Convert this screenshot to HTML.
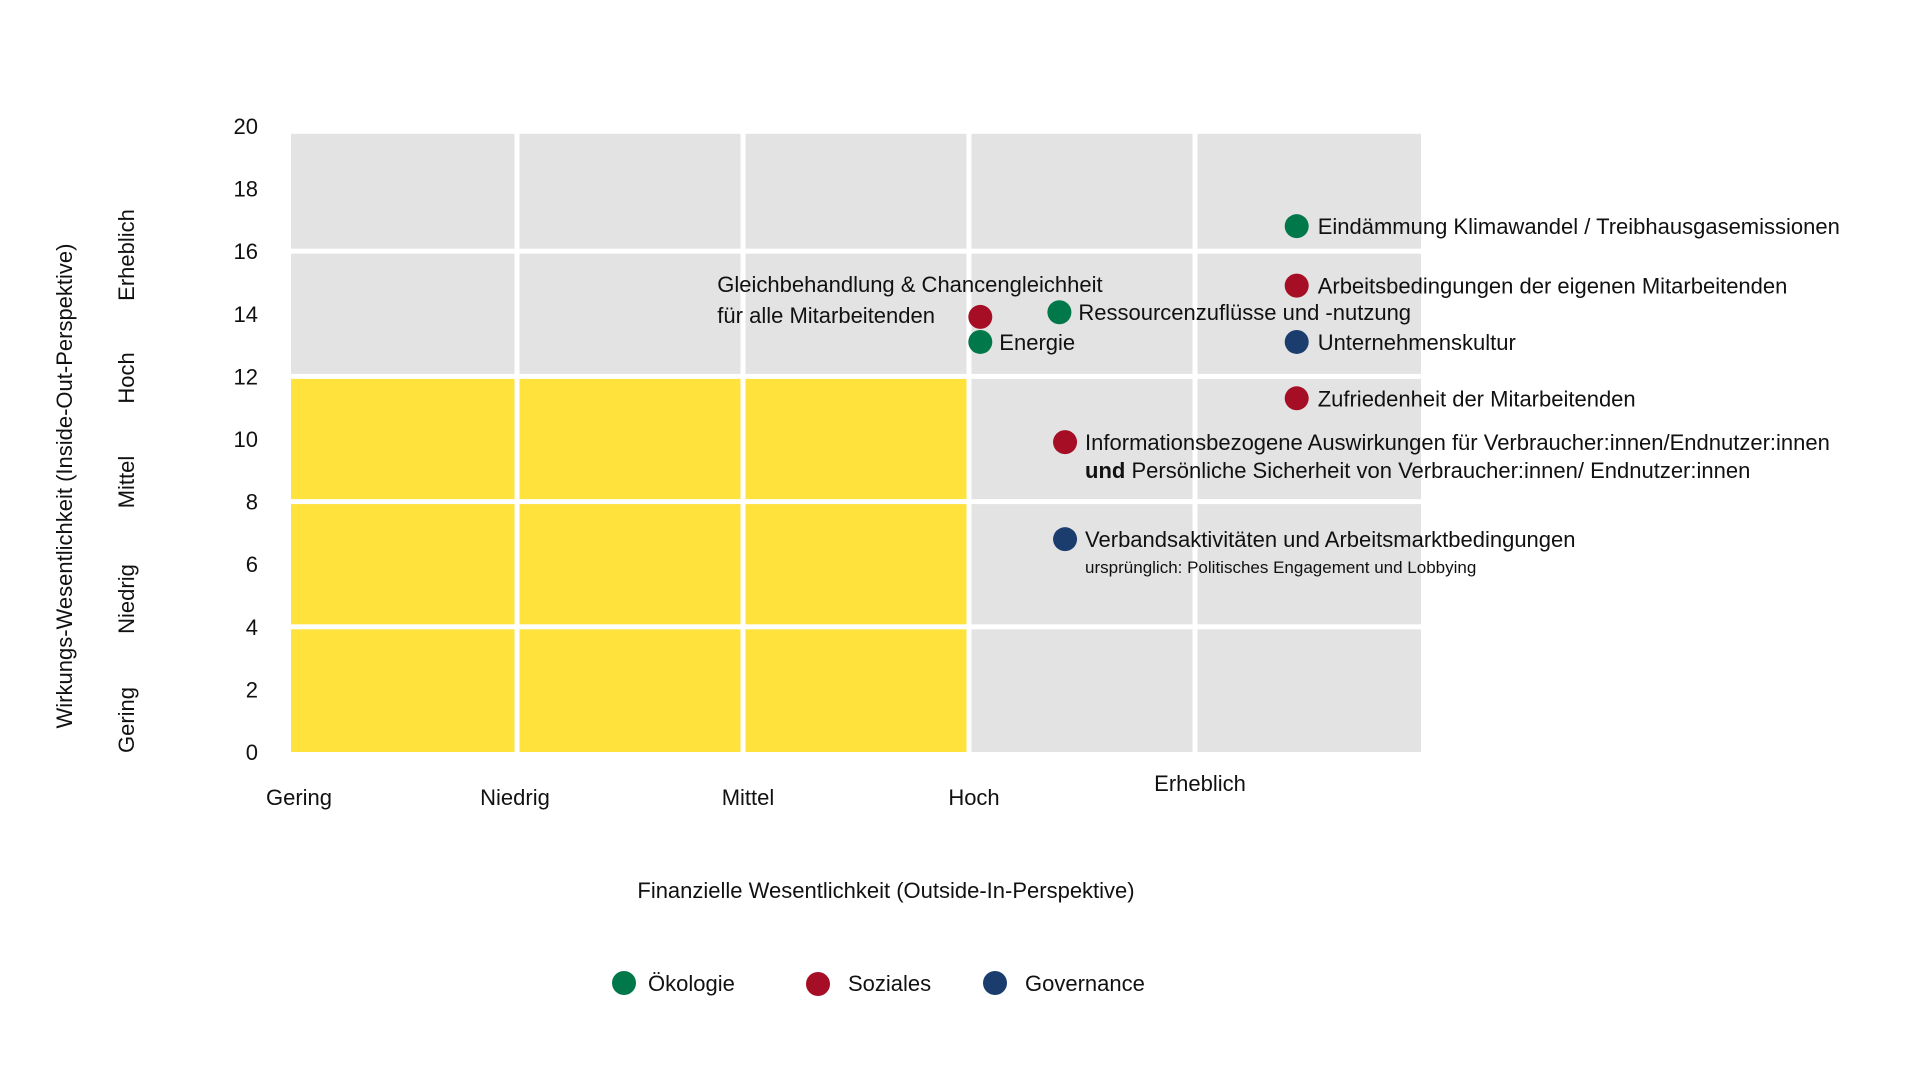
<!DOCTYPE html>
<html><head><meta charset="utf-8"><style>
html,body{margin:0;padding:0;background:#fff;}
svg{display:block;font-family:"Liberation Sans",sans-serif;}
</style></head><body>
<svg id="chart" width="1920" height="1080" viewBox="0 0 1920 1080" xmlns="http://www.w3.org/2000/svg">
<g id="grid"></g>
<g id="yticks"></g>
<g id="ycats"></g>
<g id="xcats"></g>
<g id="points"></g>
<text transform="translate(72,486) rotate(-90)" text-anchor="middle" font-size="22" fill="#111">Wirkungs-Wesentlichkeit (Inside-Out-Perspektive)</text>
<text x="886" y="898" text-anchor="middle" font-size="22" fill="#111">Finanzielle Wesentlichkeit (Outside-In-Perspektive)</text>
<g transform="translate(-4,-4)">
 <g><circle cx="628" cy="987" r="12" fill="#00784a"/><text x="652" y="995" font-size="22" fill="#111">Ökologie</text></g>
 <g><circle cx="822" cy="988" r="12" fill="#a50e25"/><text x="852" y="995" font-size="22" fill="#111">Soziales</text></g>
 <g><circle cx="999" cy="987" r="12" fill="#1b3d6e"/><text x="1029" y="995" font-size="22" fill="#111">Governance</text></g>
</g>
</svg>
<script>
const yTickLabels = ["0","2","4","6","8","10","12","14","16","18","20"];
const yTickValues = [0,2,4,6,8,10,12,14,16,18,20];
const levelLabels = ["Gering","Niedrig","Mittel","Hoch","Erheblich"];
const pointNames = ["Eindämmung Klimawandel / Treibhausgasemissionen","Arbeitsbedingungen der eigenen Mitarbeitenden","Unternehmenskultur","Zufriedenheit der Mitarbeitenden","Informationsbezogene Auswirkungen","Verbandsaktivitäten und Arbeitsmarktbedingungen","Gleichbehandlung & Chancengleichheit","Energie","Ressourcenzuflüsse und -nutzung"];
const pointX = [17.8,17.8,17.8,17.8,13.7,13.7,12.2,12.2,13.6];
const pointY = [16.8,14.9,13.1,11.3,9.9,6.8,13.9,13.1,14.05];
const pointCat = ["oek","soz","gov","soz","soz","gov","soz","oek","oek"];

const NS="http://www.w3.org/2000/svg";
const X0=291,X1=1421,Y0=752,Y20=126;
const xs=v=>X0+v*(X1-X0)/20;
const ys=v=>Y0-v*(Y0-Y20)/20;
const colors={oek:"#00784a",soz:"#a50e25",gov:"#1b3d6e"};
function mk(tag,attrs,parent){const e=document.createElementNS(NS,tag);for(const k in attrs)e.setAttribute(k,attrs[k]);parent.appendChild(e);return e;}

const grid=document.getElementById('grid');
const colB=[0,4,8,12,16,20];
const rowB=[0,4,8,12,16,19.75];
for(let c=0;c<5;c++){for(let r=0;r<5;r++){
  const x=xs(colB[c])+(c>0?2.5:0), x2=xs(colB[c+1])-(c<4?2.5:0);
  const yb=ys(rowB[r])-(r>0?2.5:0), yt=ys(rowB[r+1])+(r<4?2.5:0);
  const yellow=(c<3&&r<3);
  const el=mk('rect',{x:x,y:yt,width:x2-x,height:yb-yt,fill:yellow?"#ffe23b":"#e3e3e3"},grid);
  
  
}}
const yt=document.getElementById('yticks');
yTickValues.forEach((v,i)=>{
  const t=mk('text',{x:258,y:ys(v)+8,"text-anchor":"end","font-size":22,fill:"#111"},yt);
  t.textContent=yTickLabels[i];
  
  
});
const yc=document.getElementById('ycats');
const ycY=[720,599,482,378,255];
levelLabels.forEach((l,i)=>{
  const t=mk('text',{transform:`translate(134,${ycY[i]}) rotate(-90)`,"text-anchor":"middle","font-size":22,fill:"#111"},yc);
  t.textContent=l;
  
  
});
const xc=document.getElementById('xcats');
const xcX=[299,515,748,974,1200];
const xcY=[805,805,805,805,791];
levelLabels.forEach((l,i)=>{
  const t=mk('text',{x:xcX[i],y:xcY[i],"text-anchor":"middle","font-size":22,fill:"#111"},xc);
  t.textContent=l;
  
  
});
const pg=document.getElementById('points');
pointX.forEach((v,i)=>{
  const c=mk('circle',{cx:xs(v),cy:ys(pointY[i]),r:12,fill:colors[pointCat[i]]},pg);
  
  
});
function label(i,html,dx,dy){
  const t=mk('text',{x:xs(pointX[i])+dx,y:ys(pointY[i])+dy,"font-size":22,fill:"#111"},pg);
  t.innerHTML=html;
  
  
  return t;
}
label(0,pointNames[0],21,8);
label(1,pointNames[1],21,8);
label(2,pointNames[2],21,8);
label(3,pointNames[3],21,8);
label(4,'<tspan>Informationsbezogene Auswirkungen für Verbraucher:innen/Endnutzer:innen</tspan><tspan x="'+(xs(pointX[4])+20)+'" dy="28"><tspan font-weight="bold">und</tspan> Persönliche Sicherheit von Verbraucher:innen/ Endnutzer:innen</tspan>',20,8);
label(5,'<tspan>Verbandsaktivitäten und Arbeitsmarktbedingungen</tspan><tspan x="'+(xs(pointX[5])+20)+'" dy="26" font-size="17">ursprünglich: Politisches Engagement und Lobbying</tspan>',20,8);
label(6,'<tspan>Gleichbehandlung &amp; Chancengleichheit</tspan><tspan x="'+(xs(pointX[6])-263)+'" dy="31">für alle Mitarbeitenden</tspan>',-263,-25);
label(7,pointNames[7],19,8);
label(8,pointNames[8],19,8);
</script>
</body></html>
